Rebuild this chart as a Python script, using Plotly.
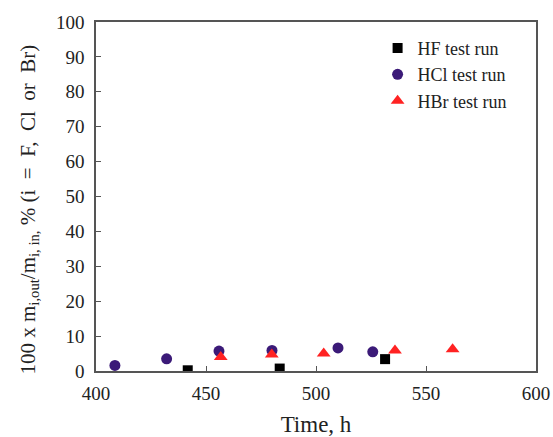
import plotly.graph_objects as go

hf_t = [441.7, 483.5, 531.4]
hf_v = [0.2, 0.7, 3.4]
hcl_t = [408.6, 432.1, 455.9, 480.0, 510.0, 525.8]
hcl_v = [1.6, 3.5, 5.7, 5.9, 6.6, 5.5]
hbr_t = [456.7, 479.9, 503.5, 535.9, 562.1]
hbr_v = [4.0, 4.7, 5.0, 5.9, 6.2]

FONT = "Liberation Serif"
NB = "\u00a0"
ytitle = ("100 x m<sub>i,out</sub>/m<sub>i," + NB + "in,</sub>" + NB + "%" + NB
          + "(i" + NB * 2 + "=" + NB * 2 + "F," + NB * 2 + "Cl" + NB * 2 + "or" + NB * 2 + "Br)"
          + NB * 5 + "\u200b")

fig = go.Figure()
fig.add_trace(go.Scatter(x=hf_t, y=hf_v, mode="markers", name="HF test run",
                         marker=dict(symbol="square", size=10, color="#000000")))
fig.add_trace(go.Scatter(x=hcl_t, y=hcl_v, mode="markers", name="HCl test run",
                         marker=dict(symbol="circle", size=11, color="#3b1a78")))
fig.add_trace(go.Scatter(x=hbr_t, y=hbr_v, mode="markers", name="HBr test run",
                         marker=dict(symbol="triangle-up", size=12, color="#ff2222")))

axis_common = dict(showgrid=False, zeroline=False, showline=True, linecolor="#555555",
                   linewidth=1.5, mirror=True, ticks="inside", ticklen=5,
                   tickcolor="#555555", tickwidth=1.2, automargin=False,
                   tickfont=dict(family=FONT, size=19, color="#222222"))
fig.update_layout(
    width=553, height=437,
    margin=dict(l=96, r=17, t=22, b=66),
    paper_bgcolor="white", plot_bgcolor="white",
    font=dict(family=FONT, size=19, color="#222222"),
    xaxis=dict(range=[400, 600], tickvals=[400, 450, 500, 550, 600],
               ticklabelstandoff=4,
               title=dict(text="Time, h", font=dict(family=FONT, size=23), standoff=18),
               **axis_common),
    yaxis=dict(range=[0, 100], dtick=10, ticklabelstandoff=6,
               title=dict(text=ytitle, font=dict(family=FONT, size=21), standoff=15),
               **axis_common),
    legend=dict(x=0.64, y=0.978, xanchor="left", yanchor="top",
                bgcolor="rgba(0,0,0,0)", font=dict(family=FONT, size=18)),
)
fig.write_html("out.html")
